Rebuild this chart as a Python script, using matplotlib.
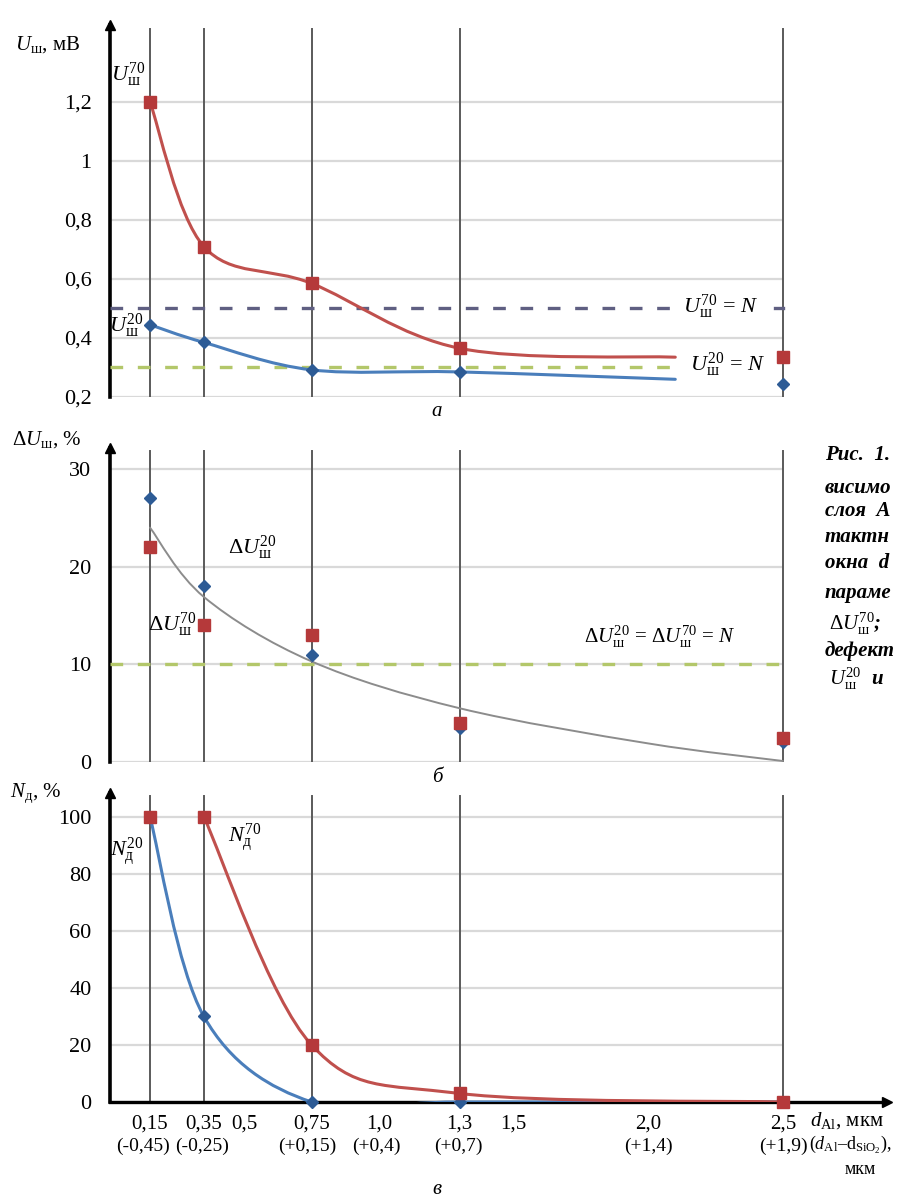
import numpy as np
import matplotlib.pyplot as plt
from matplotlib.path import Path
from matplotlib.patches import PathPatch

plt.rcParams['font.family'] = ['Liberation Serif', 'DejaVu Serif']
plt.rcParams['mathtext.fontset'] = 'custom'
plt.rcParams['mathtext.rm'] = 'Liberation Serif'
plt.rcParams['mathtext.it'] = 'Liberation Serif:italic'
plt.rcParams['mathtext.bf'] = 'Liberation Serif:bold'

# ---- data ----
d_al = [0.15, 0.35, 0.75, 1.3, 2.5]

# panel a: noise voltage, mV
u70 = [1.2, 0.71, 0.585, 0.365, 0.335]
u20 = [0.445, 0.385, 0.292, 0.285, 0.245]
u_line_end_x = 2.1          # smoothed lines stop here (no marker)
u70_line_end = 0.335
u20_line_end = 0.26
u70_norm = 0.5
u20_norm = 0.3

# panel b: spread of noise voltage, %
du20 = [27, 18, 11, 3.5, 2.0]
du70 = [22, 14, 13, 4, 2.5]
trend_x = [0.15, 0.35, 0.75, 1.3, 2.0, 2.5]
trend_y = [24, 16.9, 10.3, 5.5, 1.9, 0.1]
du_norm = 10

# panel c: defect fraction, %
n20 = [100, 30, 0, 0, 0]
n70 = [100, 100, 20, 3, 0]

x_ticks = [0.15, 0.35, 0.5, 0.75, 1.0, 1.3, 1.5, 2.0, 2.5]
x_lab1 = ['0,15', '0,35', '0,5', '0,75', '1,0', '1,3', '1,5', '2,0', '2,5']
x_lab2 = ['(-0,45)', '(-0,25)', '', '(+0,15)', '(+0,4)', '(+0,7)', '', '(+1,4)', '(+1,9)']
x_lab2_shift = [-7, -2, 0, -4, -3, -1, 0, 0, 0]   # px, as placed in the picture
x_minor = [0.5, 1.0, 1.5, 2.0, 2.5]

RED = '#c0504d'
RED_M = '#b5393a'
BLUE = '#4a7ebb'
BLUE_M = '#2d5b95'
GRID = '#d9d9d9'
VLINE = '#5a5a5a'


def smooth(xs, ys):
    # excel-like smoothed line: catmull-rom as cubic bezier
    p = np.column_stack([xs, ys]).astype(float)
    n = len(p)
    verts = [p[0]]
    codes = [Path.MOVETO]
    for i in range(n - 1):
        p0 = p[max(i - 1, 0)]
        p1 = p[i]
        p2 = p[i + 1]
        p3 = p[min(i + 2, n - 1)]
        verts += [p1 + (p2 - p0) / 6, p2 - (p3 - p1) / 6, p2]
        codes += [Path.CURVE4] * 3
    return Path(verts, codes)


def add_curve(ax, xs, ys, color, lw=2.2, z=4):
    ax.add_patch(PathPatch(smooth(xs, ys), fill=False, ec=color, lw=lw,
                           zorder=z, capstyle='round'))


W, H = 897, 1198
fig = plt.figure(figsize=(W / 100, H / 100), dpi=100)


def fx(px):
    return px / W


def fy(py):
    return 1 - py / H


def box(top, bottom):
    return [109.6 / W, 1 - bottom / H, (887 - 109.6) / W, (bottom - top) / H]


def style(ax, ymin, ymax, yt, ylab):
    ax.set_xlim(0, 2.886)
    ax.set_ylim(ymin, ymax)
    for s in ['top', 'right', 'bottom']:
        ax.spines[s].set_visible(False)
    ax.spines['left'].set_linewidth(2.6)
    ax.plot([0], [1], marker='^', ms=7, color='k', transform=ax.transAxes,
            clip_on=False, zorder=10)
    ax.set_yticks(yt, ylab)
    ax.tick_params(axis='y', length=0, pad=13, labelsize=16)
    ax.set_xticks([])
    ax.hlines(yt, 0, 2.5, color=GRID, lw=1.6, zorder=1)
    for x in d_al:
        ax.axvline(x, ymin=0, ymax=0.99, color=VLINE, lw=1.4, zorder=2)


dash = (0, (3.8, 4.4))

# ---------- a ----------
ax1 = fig.add_axes(box(25, 397))
style(ax1, 0.2, 1.461, [0.2, 0.4, 0.6, 0.8, 1.0, 1.2],
      ['0,2', '0,4', '0,6', '0,8', '1', '1,2'])
ax1.plot([0, u_line_end_x], [u70_norm] * 2, color='#5f5f82', lw=2.4, ls=dash, zorder=3)
ax1.plot([2.47, 2.5], [u70_norm] * 2, color='#5f5f82', lw=2.4, zorder=3)
ax1.plot([0, u_line_end_x], [u20_norm] * 2, color='#b3c76a', lw=2.4, ls=dash, zorder=3)
add_curve(ax1, d_al[:4] + [u_line_end_x], u70[:4] + [u70_line_end], RED)
add_curve(ax1, d_al[:4] + [u_line_end_x], u20[:4] + [u20_line_end], BLUE)
ax1.plot(d_al, u20, ls='none', marker='D', ms=6, color=BLUE_M, zorder=5, clip_on=False)
ax1.plot(d_al, u70, ls='none', marker='s', ms=9, color=RED_M, zorder=6, clip_on=False)

fig.text(fx(15), fy(45), r'$U_{\mathrm{ш}}$, мВ', fontsize=15, va='center')
fig.text(fx(128), fy(75), r'$U_{\mathrm{ш}}^{70}$', fontsize=16, va='center', ha='center')
fig.text(fx(126), fy(326), r'$U_{\mathrm{ш}}^{20}$', fontsize=16, va='center', ha='center')
fig.text(fx(683), fy(307), r'$U_{\mathrm{ш}}^{70}$ = $N$', fontsize=16, va='center')
fig.text(fx(690), fy(365), r'$U_{\mathrm{ш}}^{20}$ = $N$', fontsize=16, va='center')
fig.text(fx(437), fy(412), 'а', fontsize=15, style='italic', ha='center', va='center')

# ---------- b ----------
ax2 = fig.add_axes(box(448, 762))
style(ax2, 0, 32.15, [0, 10, 20, 30], ['0', '10', '20', '30'])
ax2.plot([0, 2.5], [du_norm] * 2, color='#b3c76a', lw=2.4, ls=dash, zorder=3)
add_curve(ax2, trend_x, trend_y, '#8c8c8c', lw=1.4)
ax2.plot(d_al, du20, ls='none', marker='D', ms=6, color=BLUE_M, zorder=5, clip_on=False)
ax2.plot(d_al, du70, ls='none', marker='s', ms=9, color=RED_M, zorder=6, clip_on=False)

fig.text(fx(12), fy(440), r'$\Delta U_{\mathrm{ш}}$, %', fontsize=15, va='center')
fig.text(fx(252), fy(548), r'$\Delta U_{\mathrm{ш}}^{20}$', fontsize=16, va='center', ha='center')
fig.text(fx(172), fy(625), r'$\Delta U_{\mathrm{ш}}^{70}$', fontsize=16, va='center', ha='center')
fig.text(fx(660), fy(637), r'$\Delta U_{\mathrm{ш}}^{20}$ = $\Delta U_{\mathrm{ш}}^{70}$ = $N$',
         fontsize=15, va='center', ha='center')
fig.text(fx(437), fy(778), 'б', fontsize=15, style='italic', ha='center', va='center')

# ---------- c ----------
ax3 = fig.add_axes(box(793, 1102))
style(ax3, 0, 108.4, [0, 20, 40, 60, 80, 100], ['0', '20', '40', '60', '80', '100'])
ax3.spines['bottom'].set_visible(True)
ax3.spines['bottom'].set_linewidth(2.4)
ax3.plot([1], [0], marker='>', ms=7, color='k', transform=ax3.transAxes,
         clip_on=False, zorder=10)
ax3.set_xticks(x_ticks, x_lab1)
ax3.set_xticks(x_minor, minor=True)
ax3.tick_params(axis='x', which='major', length=0, pad=9, labelsize=15)
ax3.tick_params(axis='x', which='minor', length=12, width=2.6, direction='inout', color='k')
for x, s, dx in zip(x_ticks, x_lab2, x_lab2_shift):
    if s:
        ax3.annotate(s, (x, 0), xytext=(dx * 0.72, -44 * 0.72), textcoords='offset points',
                     ha='center', va='center', fontsize=14, annotation_clip=False)
add_curve(ax3, d_al, n20, BLUE)
add_curve(ax3, d_al[1:], n70[1:], RED)
ax3.plot(d_al, n20, ls='none', marker='D', ms=6, color=BLUE_M, zorder=5, clip_on=False)
ax3.plot(d_al, n70, ls='none', marker='s', ms=9, color=RED_M, zorder=6, clip_on=False)

fig.text(fx(10), fy(793), r'$N_{\mathrm{д}}$, %', fontsize=15, va='center')
fig.text(fx(127), fy(852), r'$N_{\mathrm{д}}^{20}$', fontsize=16, va='center', ha='center')
fig.text(fx(245), fy(838), r'$N_{\mathrm{д}}^{70}$', fontsize=16, va='center', ha='center')
fig.text(fx(810), fy(1121), r'$d_{\mathrm{Al}}$, мкм', fontsize=15, va='center')
fig.text(fx(809), fy(1145), r'($d_{\mathrm{Al}}$–d$_{\mathrm{SiO_2}}$),', fontsize=13, va='center')
fig.text(fx(860), fy(1170), 'мкм', fontsize=13, va='center', ha='center')
fig.text(fx(437), fy(1190), 'в', fontsize=15, style='italic', ha='center', va='center')

# cropped caption on the right
cap = ['Рис.  1.', 'висимо', 'слоя  А', 'тактн', 'окна  d', 'параме',
       r'$\Delta U_{\mathrm{ш}}^{70}$;', 'дефект', r'$U_{\mathrm{ш}}^{20}$  и']
cap_y = [455, 488, 511, 537, 563, 593, 624, 651, 679]
cap_x = [825, 825, 825, 825, 825, 825, 829, 825, 829]
for s, x, y in zip(cap, cap_x, cap_y):
    fig.text(fx(x), fy(y), s, fontsize=15, weight='bold', style='italic', va='center')

fig.savefig('out.png', dpi=100)
